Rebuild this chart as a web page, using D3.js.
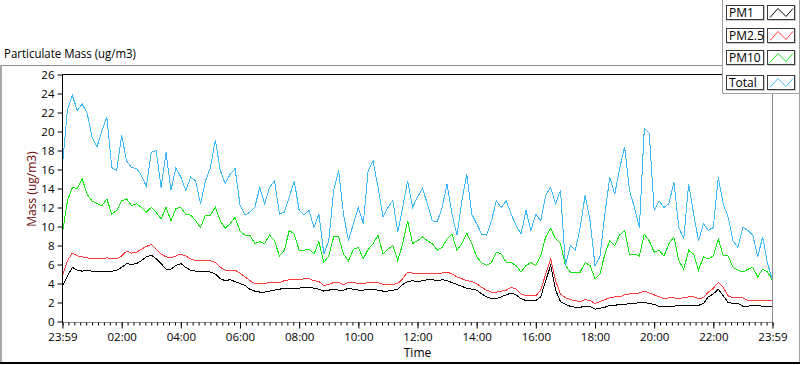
<!DOCTYPE html>
<html>
<head>
<meta charset="utf-8">
<script src="https://cdn.jsdelivr.net/npm/d3@7"></script>
<style>
  html, body { margin: 0; padding: 0; background: #fff; }
  svg { display: block; }
  text { font-family: "Open Sans", "Noto Sans", "DejaVu Sans", sans-serif; }
</style>
</head>
<body>
<svg id="chart" width="800" height="365"></svg>
<script>
// ---------- data ----------
const seriesNames = ["PM1", "PM2.5", "PM10", "Total"];
// sample times, minutes after 23:59 of the previous day (every 10 minutes)
const sampleMinutes = d3.range(0, 1441, 10);

const pm1 = [3.7,4.8,5.7,5.4,5.3,5.4,5.3,5.3,5.3,5.3,5.3,5.4,5.7,6.1,6.0,6.1,6.4,6.8,7.0,6.6,6.1,5.5,5.5,5.9,6.1,5.7,5.4,5.3,5.3,5.3,5.2,5.0,4.5,4.3,4.4,4.2,4.0,
  3.8,3.4,3.2,3.1,3.1,3.2,3.3,3.4,3.5,3.5,3.5,3.5,3.6,3.6,3.5,3.4,3.2,3.3,3.4,3.3,3.3,3.5,3.4,3.3,3.3,3.4,3.4,3.3,3.2,3.2,3.3,3.4,3.9,4.2,4.3,4.2,
  4.3,4.4,4.4,4.3,4.4,4.3,4.1,3.9,3.7,3.5,3.4,3.3,2.9,2.6,2.4,2.4,2.6,2.8,3.0,2.8,2.4,2.2,2.2,2.2,2.6,4.3,5.9,3.3,2.1,1.8,1.6,1.5,1.5,1.6,1.6,1.3,
  1.4,1.5,1.7,1.7,1.8,1.8,1.9,1.9,2.0,2.0,1.9,1.8,1.6,1.6,1.6,1.6,1.7,1.7,1.7,1.7,1.7,1.9,2.6,2.9,3.4,2.7,2.0,1.9,1.9,1.6,1.6,1.7,1.7,1.6,1.6,1.6];

const pm25 = [4.8,6.4,7.2,6.9,6.8,6.7,6.6,6.6,6.6,6.7,6.6,6.6,6.9,7.4,7.2,7.3,7.6,7.9,8.1,7.6,7.1,6.8,6.7,6.9,7.1,6.9,6.6,6.4,6.4,6.4,6.4,6.2,5.7,5.4,5.4,5.4,5.1,
  4.7,4.3,4.0,4.0,4.0,4.1,4.1,4.1,4.3,4.4,4.4,4.4,4.5,4.5,4.3,4.2,3.8,3.9,4.1,4.1,3.9,4.1,4.1,4.0,4.0,4.1,4.1,4.1,3.9,3.9,3.9,4.0,4.5,5.2,5.1,5.1,
  5.0,5.1,5.1,5.1,5.1,5.2,5.0,4.7,4.5,4.3,4.2,4.0,3.6,3.3,3.1,3.1,3.2,3.3,3.6,3.4,2.9,2.7,2.7,2.7,3.3,5.0,6.6,4.3,2.9,2.5,2.3,2.2,2.1,2.3,2.2,1.9,
  2.1,2.3,2.5,2.6,2.6,2.8,2.9,3.0,3.0,3.2,3.0,2.8,2.6,2.4,2.5,2.5,2.4,2.5,2.6,2.6,2.4,2.5,3.1,3.5,4.1,3.6,2.7,2.5,2.5,2.5,2.2,2.2,2.2,2.2,2.2,2.2];

const pm10 = [9.4,12.7,14.1,14.0,15.0,13.4,12.7,12.4,12.2,12.9,11.3,11.7,12.7,12.9,12.2,12.4,12.0,11.5,12.0,11.5,10.8,12.0,10.6,11.9,12.0,11.3,11.2,10.6,9.9,11.2,11.2,12.0,10.6,9.8,10.3,11.0,9.5,
  9.1,9.1,8.2,8.4,8.2,9.1,8.5,6.9,7.5,9.6,9.2,7.5,7.5,7.6,7.1,8.4,6.2,6.9,8.9,8.9,7.1,6.4,7.6,7.8,6.6,7.6,8.2,9.1,7.1,7.6,8.0,6.4,8.2,10.6,8.2,8.5,
  8.9,8.5,8.2,7.5,7.8,8.7,9.2,7.5,8.2,9.3,8.2,6.8,6.2,5.9,6.2,7.3,7.1,6.2,6.2,5.9,5.2,5.9,6.2,5.9,6.9,8.9,9.8,8.7,8.2,5.9,5.2,5.2,5.2,6.2,5.9,4.5,
  5.0,7.1,8.5,8.0,9.1,9.6,7.1,7.1,6.9,9.2,8.5,7.3,7.5,6.9,8.2,8.9,6.4,5.5,7.5,7.1,5.4,6.8,6.6,6.9,8.7,6.9,6.9,5.7,5.4,5.2,5.5,5.7,4.7,5.5,5.2,4.3];

const total = [16.5,22.3,23.8,22.2,22.9,21.9,19.4,18.4,20.1,21.5,16.2,15.9,19.6,16.9,16.2,16.1,15.4,14.2,17.8,18.0,14.1,17.8,13.8,16.2,15.2,13.8,15.2,14.8,12.4,14.8,16.2,19.1,15.9,14.5,15.5,16.1,12.3,
  11.2,11.5,12.0,14.1,12.4,14.1,14.8,11.3,11.5,13.1,14.8,11.7,11.2,11.7,9.9,11.3,7.1,8.5,13.8,15.9,11.3,8.5,10.3,12.0,10.3,15.9,16.9,14.1,11.0,12.0,12.7,9.4,12.0,14.8,12.0,13.1,
  14.0,12.4,10.6,10.5,12.0,14.5,11.3,9.1,12.7,15.5,11.3,10.3,9.2,9.1,10.6,12.7,12.0,12.7,11.3,10.1,9.2,11.7,9.6,11.3,10.6,13.3,14.1,12.4,13.8,5.9,8.0,7.5,9.9,13.3,10.6,5.9,
  6.8,11.3,15.2,13.4,16.1,18.4,13.8,12.0,9.9,20.3,19.8,11.7,12.7,12.0,12.4,14.7,9.9,8.7,14.5,11.3,8.5,10.3,9.6,9.9,15.2,12.4,11.0,8.5,7.8,9.9,9.6,9.1,6.8,8.9,6.1,4.3];

const seriesColors = ["#000000", "#ff3b3b", "#14e614", "#3fb8f8"];
const yTicks = d3.range(0, 27, 2);
const xTickMinutes = d3.range(0, 1441, 120);
const xTickLabels = ["23:59","02:00","04:00","06:00","08:00","10:00","12:00","14:00","16:00","18:00","20:00","22:00","23:59"];
const xMinorMinutes = d3.range(0, 1441, 12);

const chartTitle = "Particulate Mass (ug/m3)";
const yTitle = "Mass (ug/m3)";
const xTitle = "Time";

// ---------- layout ----------
const svg = d3.select("#chart");
const L = 62.5, R = 772.5, T = 74.5, B = 321.5;
const x = d3.scaleLinear().domain([0, 1440]).range([L, R]);
const y = d3.scaleLinear().domain([0, 26]).range([B, T]);

// outer frame
svg.append("line").attr("x1", 0).attr("x2", 723).attr("y1", 65.5).attr("y2", 65.5).attr("stroke", "#8c8c8c");
svg.append("line").attr("x1", 1).attr("x2", 1).attr("y1", 65).attr("y2", 362).attr("stroke", "#a8a8a8").attr("stroke-width", 2);
svg.append("rect").attr("x", 0).attr("y", 362).attr("width", 800).attr("height", 2).attr("fill", "#000");
svg.append("line").attr("x1", 799.5).attr("x2", 799.5).attr("y1", 0).attr("y2", 362).attr("stroke", "#a0a0a0");

// chart title
svg.append("text").attr("x", 4).attr("y", 58).attr("font-size", 12).attr("fill", "#000")
  .attr("textLength", 132).attr("lengthAdjust", "spacingAndGlyphs").text(chartTitle);

// clip
svg.append("clipPath").attr("id", "plotclip").append("rect")
  .attr("x", L).attr("y", T).attr("width", R - L).attr("height", B - T + 1);

// series
const series = [pm1, pm25, pm10, total];
const line = d3.line().x((d, i) => x(sampleMinutes[i])).y(d => y(d));
const g = svg.append("g").attr("clip-path", "url(#plotclip)");
series.forEach((s, si) => {
  g.append("path").datum(s).attr("d", line).attr("fill", "none")
    .attr("stroke", seriesColors[si]).attr("stroke-width", 1).attr("shape-rendering", "crispEdges");
});

// plot border
svg.append("line").attr("x1", L).attr("x2", 723).attr("y1", T).attr("y2", T).attr("stroke", "#000");
svg.append("line").attr("x1", L).attr("x2", L).attr("y1", T).attr("y2", B + 1.5).attr("stroke", "#000");
svg.append("line").attr("x1", L).attr("x2", R).attr("y1", B + 1).attr("y2", B + 1).attr("stroke", "#8c8c8c");
svg.append("line").attr("x1", R).attr("x2", R).attr("y1", 93).attr("y2", B + 1.5).attr("stroke", "#8c8c8c");

// y axis
const yAxis = svg.append("g").attr("transform", `translate(${L},0)`)
  .call(d3.axisLeft(y).tickValues(yTicks).tickSize(5).tickPadding(3).tickFormat(d3.format("d")));
yAxis.select(".domain").remove();
yAxis.selectAll("text").attr("font-size", 11.5).attr("fill", "#000").attr("font-family", "Open Sans");
yAxis.selectAll("line").attr("stroke", "#000");

// x axis (minor + major)
const xMinor = svg.append("g").attr("transform", `translate(0,${B + 1})`)
  .call(d3.axisBottom(x).tickValues(xMinorMinutes).tickSize(3).tickFormat(""));
xMinor.select(".domain").remove();
xMinor.selectAll("line").attr("stroke", "#000");
const xAxis = svg.append("g").attr("transform", `translate(0,${B + 1})`)
  .call(d3.axisBottom(x).tickValues(xTickMinutes).tickSize(6).tickPadding(4)
    .tickFormat((d, i) => xTickLabels[i]));
xAxis.select(".domain").remove();
xAxis.selectAll("line").attr("stroke", "#000");
xAxis.selectAll("text").attr("font-size", 11.5).attr("fill", "#000").attr("font-family", "Open Sans");

// axis titles
svg.append("text").attr("x", (L + R) / 2).attr("y", 357).attr("text-anchor", "middle")
  .attr("font-size", 12).attr("fill", "#000").text(xTitle);
svg.append("text").attr("transform", "translate(36,189) rotate(-90)").attr("text-anchor", "middle")
  .attr("font-size", 12).attr("fill", "#6e0a0a").text(yTitle);

// legend panel
const lg = svg.append("g");
lg.append("rect").attr("x", 723).attr("y", 0).attr("width", 76).attr("height", 93).attr("fill", "#fff");
lg.append("line").attr("x1", 722.5).attr("x2", 722.5).attr("y1", 0).attr("y2", 93).attr("stroke", "#a0a0a0");
lg.append("line").attr("x1", 722.5).attr("x2", 800).attr("y1", 93.5).attr("y2", 93.5).attr("stroke", "#a0a0a0");
const rowTops = [5, 27.5, 50, 75];
seriesNames.forEach((name, i) => {
  const top = Math.round(rowTops[i]) + 0.5;
  const boxes = [[726.5, 37], [767.5, 27]];
  boxes.forEach(([bx, bw]) => {
    lg.append("rect").attr("x", bx).attr("y", top).attr("width", bw).attr("height", 14)
      .attr("fill", "#fff").attr("stroke", "#3a3a3a");
    lg.append("line").attr("x1", bx + bw + 1).attr("x2", bx + bw + 1).attr("y1", top).attr("y2", top + 15).attr("stroke", "#c8c8c8");
    lg.append("line").attr("x1", bx).attr("x2", bx + bw + 1).attr("y1", top + 15).attr("y2", top + 15).attr("stroke", "#c8c8c8");
  });
  lg.append("text").attr("x", 729).attr("y", top + 11.5).attr("font-size", 12).attr("fill", "#000").text(name);
  const zig = [[770, top + 12], [778, top + 3], [786, top + 11], [793, top + 3]];
  lg.append("path").attr("d", d3.line()(zig)).attr("fill", "none").attr("stroke", seriesColors[i]).attr("stroke-width", 1);
});
</script>
</body>
</html>
